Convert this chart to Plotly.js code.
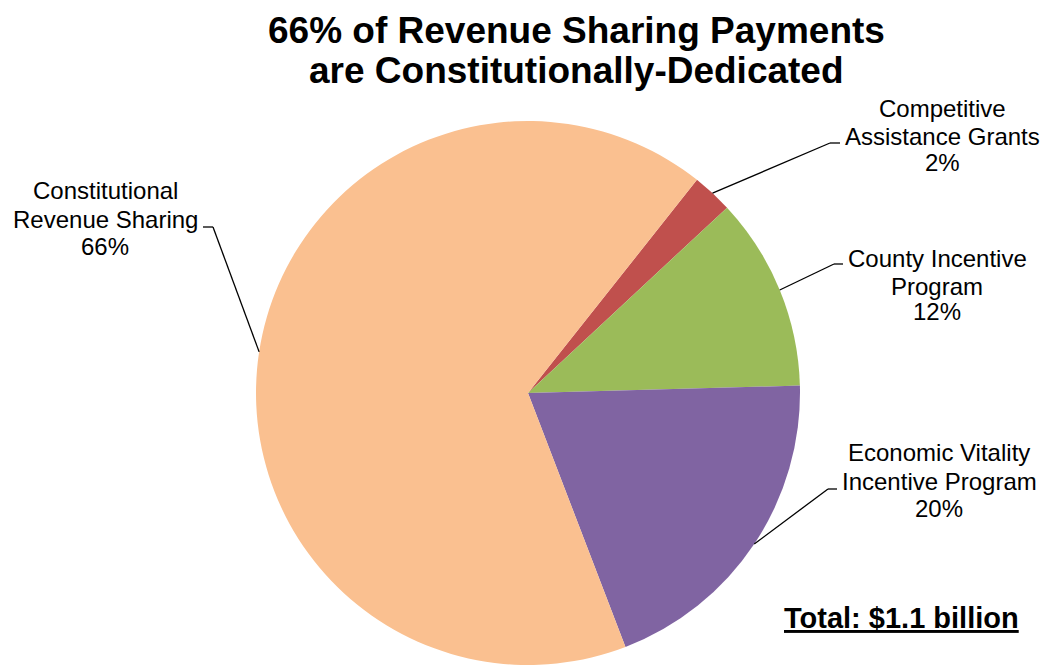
<!DOCTYPE html>
<html>
<head>
<meta charset="utf-8">
<script src="https://cdn.plot.ly/plotly-3.0.1.min.js"></script>
<style>html,body{margin:0;padding:0;background:#fff;overflow:hidden;}#chart{width:1045px;height:665px;}</style>
</head>
<body>
<div id="chart"></div>
<script>
// Data (share of revenue sharing payments, %)
const categories = ['Competitive Assistance Grants', 'County Incentive Program', 'Economic Vitality Incentive Program', 'Constitutional Revenue Sharing'];
const values = [2.4, 11.5, 19.6, 66.5];
const labelLines = [
  ['Competitive', 'Assistance Grants', '2%'],
  ['County Incentive', 'Program', '12%'],
  ['Economic Vitality', 'Incentive Program', '20%'],
  ['Constitutional', 'Revenue Sharing', '66%']
];
const colors = ['#C0504D', '#9BBB59', '#8064A2', '#FAC090'];
const titleLines = ['66% of Revenue Sharing Payments', 'are Constitutionally-Dedicated'];
const totalText = 'Total: $1.1 billion';

const W = 1045, H = 665;
const cx = 528, cy = 393, R = 272;
const rotation = 38.4;
const FONT = 'Liberation Sans, Arial, sans-serif';

// label layout (pixel positions of label centres and leader elbows)
const labelPos = [
  {x: 942, y: [108, 136, 163], elbow: [830, 143], end: [840, 143]},
  {x: 937, y: [258, 286, 312], elbow: [834, 264], end: [843, 264]},
  {x: 939, y: [453, 481, 508], elbow: [828, 489], end: [837, 489]},
  {x: 105, y: [191, 219, 246], elbow: [213, 227], end: [203, 227]}
];

const px = x => x / W;
const py = y => (H - y) / H;

const annotations = [];
const shapes = [];

titleLines.forEach((t, i) => {
  annotations.push({text: '<b>' + t + '</b>', x: px(576), y: py(30 + 40 * i), xref: 'paper', yref: 'paper',
    xanchor: 'center', yanchor: 'middle', showarrow: false, font: {family: FONT, size: 37, color: '#000'}});
});

const total = values.reduce((a, b) => a + b, 0);
let cum = 0;
values.forEach((v, i) => {
  const mid = (rotation + (cum + v / 2) / total * 360) * Math.PI / 180;
  cum += v;
  const sx = cx + R * Math.sin(mid), sy = cy - R * Math.cos(mid);
  const lp = labelPos[i];
  shapes.push({type: 'line', xref: 'paper', yref: 'paper', x0: px(sx), y0: py(sy), x1: px(lp.elbow[0]), y1: py(lp.elbow[1]), line: {color: '#000', width: 1.3}});
  shapes.push({type: 'line', xref: 'paper', yref: 'paper', x0: px(lp.elbow[0]), y0: py(lp.elbow[1]), x1: px(lp.end[0]), y1: py(lp.end[1]), line: {color: '#000', width: 1.3}});
  labelLines[i].forEach((t, j) => {
    annotations.push({text: t, x: px(lp.x), y: py(lp.y[j]), xref: 'paper', yref: 'paper', xanchor: 'center', yanchor: 'middle',
      showarrow: false, font: {family: FONT, size: 24, color: '#000'}});
  });
});

annotations.push({text: '<b><u>' + totalText + '</u></b>', x: px(901), y: py(618), xref: 'paper', yref: 'paper',
  xanchor: 'center', yanchor: 'middle', showarrow: false, font: {family: FONT, size: 29, color: '#000'}});

const trace = {
  type: 'pie',
  labels: categories,
  values: values,
  sort: false,
  direction: 'clockwise',
  rotation: rotation,
  textinfo: 'none',
  hoverinfo: 'skip',
  marker: {colors: colors, line: {width: 0}},
  domain: {x: [px(cx - R), px(cx + R)], y: [py(cy + R), py(cy - R)]}
};

const layout = {
  width: W, height: H,
  margin: {l: 0, r: 0, t: 0, b: 0},
  showlegend: false,
  paper_bgcolor: '#fff',
  annotations: annotations,
  shapes: shapes
};

Plotly.newPlot('chart', [trace], layout, {staticPlot: true, displayModeBar: false});
</script>
</body>
</html>
